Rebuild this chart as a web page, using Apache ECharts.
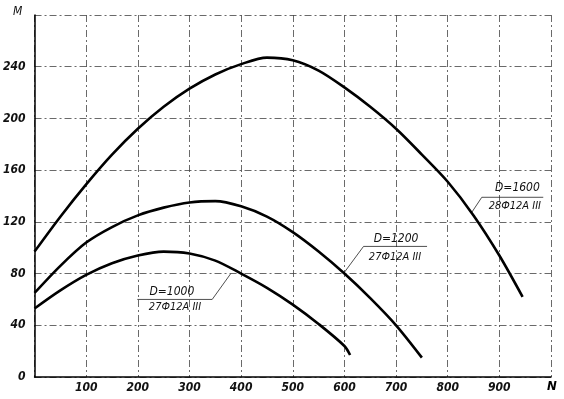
<!DOCTYPE html>
<html>
<head>
<meta charset="utf-8">
<script src="https://cdn.jsdelivr.net/npm/echarts@6/dist/echarts.min.js"></script>
<style>
  html, body { margin: 0; padding: 0; background: #fff; }
  #main { width: 564px; height: 399px; }
</style>
</head>
<body>
<div id="main"></div>
<script>
// curves: [N, M]
const curveD1600 = [[0, 97], [50, 124], [100, 149], [150, 172], [200, 192], [250, 209], [300, 223], [350, 234],
    [400, 242], [450, 247], [500, 245], [550, 237], [600, 224], [650, 209], [700, 192], [750, 172],
    [800, 151], [850, 125], [900, 94], [945, 62]];
const curveD1200 = [[0, 65], [50, 86], [100, 104], [150, 116], [200, 125], [250, 131], [300, 135], [350, 136],
    [400, 132], [450, 124], [500, 112], [550, 97], [600, 80], [650, 61], [700, 40], [750, 15]];
const curveD1000 = [[0, 53], [50, 67], [100, 79], [150, 88], [200, 94], [250, 97], [300, 95.5], [350, 90],
    [400, 80], [450, 69], [500, 56], [550, 41], [600, 24], [611, 17]];

const xTicks = [0, 100, 200, 300, 400, 500, 600, 700, 800, 900, 1000];
const yTicks = [0, 40, 80, 120, 160, 200, 240, 280];

const labelTop = ['D=1000', 'D=1200', 'D=1600'];
const labelBottom = ['27Ф12A III', '27Ф12A III', '28Ф12A III'];

// leader line anchors, in data units
const notes = [
    { tip: [380, 80], elbow: [344, 60], start: [199, 60], t1: [266, 66], t2: [272, 54] },
    { tip: [600, 81], elbow: [637, 101], start: [760, 101], t1: [700, 107], t2: [698, 93] },
    { tip: [846, 127], elbow: [866, 139], start: [985, 139], t1: [935, 146], t2: [930, 132] }
];

const font = 'DejaVu Sans Condensed, DejaVu Sans, sans-serif';
const gridLine = { color: '#444', width: 0.8, type: [7, 3, 2, 3] };

var chart = echarts.init(document.getElementById('main'));

function line(data) {
    return {
        type: 'line',
        data: data,
        smooth: 0.3,
        showSymbol: false,
        silent: true,
        lineStyle: { color: '#000', width: 2.6 }
    };
}

chart.setOption({
    animation: false,
    grid: { left: 34, right: 13, top: 15, bottom: 22 },
    xAxis: {
        type: 'value',
        min: xTicks[0],
        max: xTicks[xTicks.length - 1],
        interval: 100,
        axisLine: { lineStyle: { color: '#000', width: 1.5 } },
        axisTick: { show: false },
        splitLine: { lineStyle: gridLine },
        axisLabel: {
            margin: 5,
            color: '#111',
            fontFamily: font,
            fontStyle: 'italic',
            fontWeight: 'bold',
            fontSize: 12,
            formatter: v => (v === 0 || v === 1000) ? '' : v
        }
    },
    yAxis: {
        type: 'value',
        min: yTicks[0],
        max: yTicks[yTicks.length - 1],
        interval: 40,
        axisLine: { show: true, lineStyle: { color: '#000', width: 1.5 } },
        axisTick: { show: false },
        splitLine: { lineStyle: gridLine },
        axisLabel: {
            margin: 9,
            color: '#111',
            fontFamily: font,
            fontStyle: 'italic',
            fontWeight: 'bold',
            fontSize: 12,
            formatter: v => v === 280 ? '' : v
        }
    },
    series: [line(curveD1600), line(curveD1200), line(curveD1000)]
});

function px(p) {
    return chart.convertToPixel({ gridIndex: 0 }, p);
}

var graphics = [];
notes.forEach(function (n, i) {
    var a = px(n.tip), b = px(n.elbow), c = px(n.start);
    graphics.push({
        type: 'polyline',
        shape: { points: [a, b, c] },
        style: { stroke: '#222', lineWidth: 0.8, fill: null }
    });
    var p1 = px(n.t1), p2 = px(n.t2);
    graphics.push({
        type: 'text', x: p1[0], y: p1[1],
        style: { text: labelTop[i], fill: '#111', font: 'italic 12px ' + font, align: 'center', verticalAlign: 'middle' }
    });
    graphics.push({
        type: 'text', x: p2[0], y: p2[1],
        style: { text: labelBottom[i], fill: '#111', font: 'italic 11px ' + font, align: 'center', verticalAlign: 'middle' }
    });
});

// axis names
var yEnd = px([0, 280]), xEnd = px([1000, 0]);
graphics.push({
    type: 'text', x: yEnd[0] - 17, y: yEnd[1] - 3,
    style: { text: 'M', fill: '#111', font: 'italic 12px ' + font, align: 'center', verticalAlign: 'middle' }
});
graphics.push({
    type: 'text', x: xEnd[0] + 1, y: xEnd[1] + 10,
    style: { text: 'N', fill: '#000', font: 'italic bold 13px ' + font, align: 'center', verticalAlign: 'middle' }
});

chart.setOption({ graphic: graphics });
</script>
</body>
</html>
